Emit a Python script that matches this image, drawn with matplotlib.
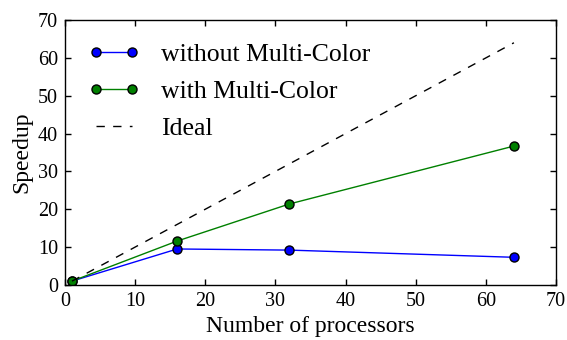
import matplotlib
matplotlib.use("Agg")
import matplotlib.pyplot as plt

procs = [1, 16, 32, 64]
without_mc = [1.0, 9.5, 9.2, 7.3]
with_mc = [1.0, 11.6, 21.4, 36.7]
ideal_x = [1, 64]
ideal_y = [1, 64]

plt.rcParams['font.family'] = ['Liberation Serif', 'DejaVu Serif']

fig = plt.figure(figsize=(5.67, 3.4), dpi=100)
ax = fig.add_axes([0.1146, 0.162, 0.866, 0.779])

ax.plot(procs, without_mc, '-o', color='blue', markeredgecolor='black',
        markersize=6.5, linewidth=1, label='without Multi-Color')
ax.plot(procs, with_mc, '-o', color='green', markeredgecolor='black',
        markersize=6.5, linewidth=1, label='with Multi-Color')
ax.plot(ideal_x, ideal_y, '--', color='black', linewidth=1, dashes=(6, 6),
        label='Ideal')

ax.set_xlim(0, 70)
ax.set_ylim(0, 70)
ax.set_xticks(range(0, 71, 10))
ax.set_yticks(range(0, 71, 10))
ax.tick_params(direction='in', top=True, right=True, length=4, width=1,
               labelsize=14.5, pad=5)
for s in ax.spines.values():
    s.set_linewidth(1)
ax.set_xlabel('Number of processors', fontsize=17)
ax.set_ylabel('Speedup', fontsize=17)
ax.legend(loc='upper left', frameon=False, fontsize=18.5, numpoints=2,
          handlelength=2.0, handletextpad=0.85,
          borderaxespad=0.5, labelspacing=0.55)

fig.savefig('out.png', dpi=100)
